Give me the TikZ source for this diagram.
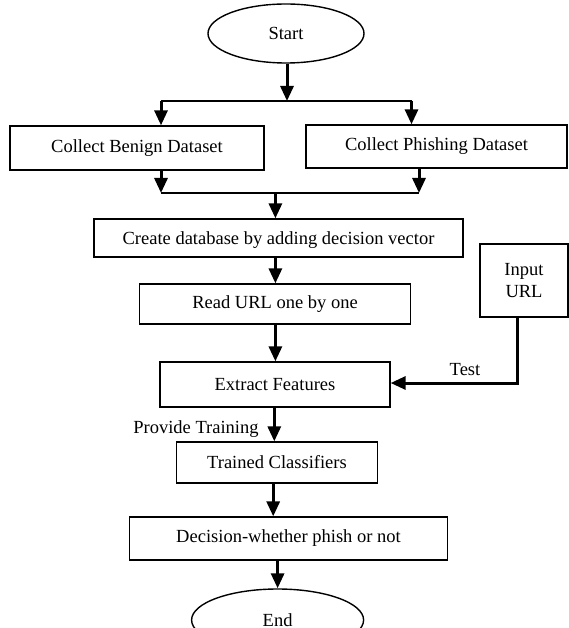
\documentclass[tikz,border=0pt]{standalone}
\usepackage{fontspec}
\setmainfont{Liberation Serif}
\usetikzlibrary{arrows.meta,shapes.geometric}
\begin{document}
\begin{tikzpicture}[x=1pt,y=-1pt,
  txt/.style={font=\fontsize{18.5}{22}\selectfont},
  box/.style={draw,line width=1.3pt,inner sep=0pt,txt},
  oval/.style={draw,ellipse,line width=1.4pt,inner sep=0pt,txt},
  thin/.style={line width=1.4pt},
  arr/.style={line width=3pt,-{Triangle[length=15pt,width=13pt]}},
  lbl/.style={txt,inner sep=0pt}]
\useasboundingbox (0,0) rectangle (569,628);
\node[oval,minimum width=156pt,minimum height=59pt] (start) at (286,33.5) {Start};
\node[box,minimum width=254pt,minimum height=44pt] (benign) at (137,148) {Collect Benign Dataset};
\node[box,minimum width=261pt,minimum height=43pt] (phish) at (436.5,146.5) {Collect Phishing Dataset};
\node[box,minimum width=369pt,minimum height=38pt] (create) at (278.5,238) {};
\node[lbl] (createtxt) at (278.5,240) {Create database by adding decision vector};
\node[box,minimum width=271pt,minimum height=40pt] (read) at (275,304) {Read URL one by one};
\node[box,minimum width=230pt,minimum height=45pt] (extract) at (275,384.5) {Extract Features};
\node[box,minimum width=88pt,minimum height=73pt,align=center] (input) at (524,280.5) {Input\\URL};
\node[box,minimum width=201pt,minimum height=41pt] (trained) at (277,462.5) {Trained Classifiers};
\node[box,minimum width=318pt,minimum height=43pt] (decision) at (288.5,538.5) {Decision-whether phish or not};
\node[oval,minimum width=172pt,minimum height=62pt] (end) at (277.6,620) {End};
\node[lbl] (test) at (465,370) {Test};
\node[lbl] (provide) at (196,429) {Provide Training};
% split
\coordinate (s) at (287,101);
\coordinate (sl) at (161,101);
\coordinate (sr) at (411.5,101);
\draw[arr] (start.south -| s) -- (s);
\draw[thin] (sl) -- (sr);
\draw[arr] (sl) -- (sl |- benign.north);
\draw[arr] (sr) -- (sr |- phish.north);
% merge
\coordinate (ml) at (161,193);
\coordinate (mr) at (419,193);
\coordinate (m) at (275.4,193);
\draw[arr] (ml |- benign.south) -- (ml);
\draw[arr] (mr |- phish.south) -- (mr);
\draw[thin] (ml) -- (mr);
\draw[arr] (m) -- (m |- create.north);
% chain
\coordinate (c1) at (275.4,0);
\draw[arr] (c1 |- create.south) -- (c1 |- read.north);
\draw[arr] (c1 |- read.south) -- (c1 |- extract.north);
\coordinate (c2) at (274.3,0);
\draw[arr] (c2 |- extract.south) -- (c2 |- trained.north);
\coordinate (c3) at (273.2,0);
\draw[arr] (c3 |- trained.south) -- (c3 |- decision.north);
\coordinate (c4) at (277.6,0);
\draw[arr] (c4 |- decision.south) -- (c4 |- end.north);
% input
\coordinate (t) at (517,383);
\draw[arr] (t |- input.south) -- (t) -- (t -| extract.east);
\end{tikzpicture}
\end{document}
